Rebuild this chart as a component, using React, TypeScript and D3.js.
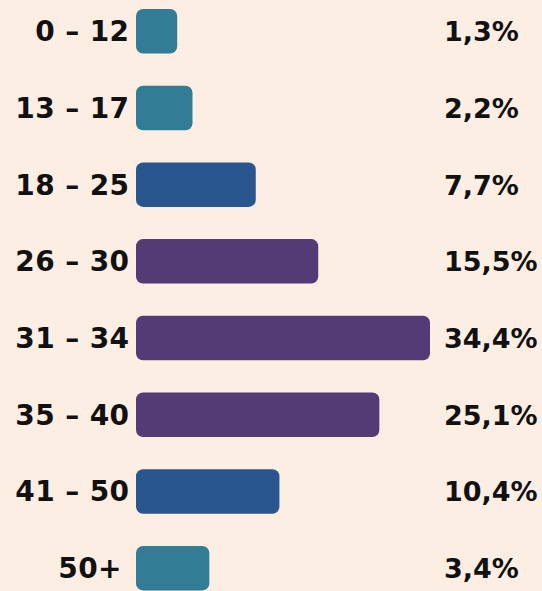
import React from "react";
import * as d3 from "d3";

const categories = ["0 – 12", "13 – 17", "18 – 25", "26 – 30", "31 – 34", "35 – 40", "41 – 50", "50+"];
const values = [1.3, 2.2, 7.7, 15.5, 34.4, 25.1, 10.4, 3.4];
const valueLabels = ["1,3%", "2,2%", "7,7%", "15,5%", "34,4%", "25,1%", "10,4%", "3,4%"];
const colorGroups = ["teal", "teal", "blue", "purple", "purple", "purple", "blue", "teal"];

const W = 542;
const H = 591;
const palette: Record<string, string> = { teal: "#317B96", blue: "#2B568F", purple: "#523B74" };

export default function App() {
  const x0 = 136;
  const x = d3.scalePow().exponent(0.6).domain([0, d3.max(values) as number]).range([0, 294]);
  const rowStep = 76.7;
  const top0 = 9;
  const bh = 44.5;
  const font = "'DejaVu Sans', sans-serif";
  return (
    <svg
      width={W}
      height={H}
      style={{ position: "absolute", left: 0, top: 0, background: "#FDEEE3" }}
    >
      <defs>
        <filter id="soft" x="-5%" y="-10%" width="110%" height="120%">
          <feGaussianBlur stdDeviation="0.7" />
        </filter>
      </defs>
      <rect width={W} height={H} fill="#FDEEE3" />
      {categories.map((c, i) => {
        const top = top0 + i * rowStep;
        const cy = top + bh / 2;
        return (
          <g key={c}>
            <rect
              x={x0}
              y={top}
              width={x(values[i])}
              height={bh}
              rx={7}
              ry={7}
              fill={palette[colorGroups[i]]}
              filter="url(#soft)"
            />
            <text
              x={i === 7 ? 122 : 129.5}
              y={cy + 10}
              textAnchor="end"
              fontFamily={font}
              fontWeight="bold"
              fontSize={28}
              letterSpacing={0.4}
              fill="#111"
            >
              {c}
            </text>
            <text
              x={444}
              y={cy + 10}
              textAnchor="start"
              fontFamily={font}
              fontWeight="bold"
              fontSize={27}
              fill="#111"
            >
              {valueLabels[i]}
            </text>
          </g>
        );
      })}
    </svg>
  );
}
